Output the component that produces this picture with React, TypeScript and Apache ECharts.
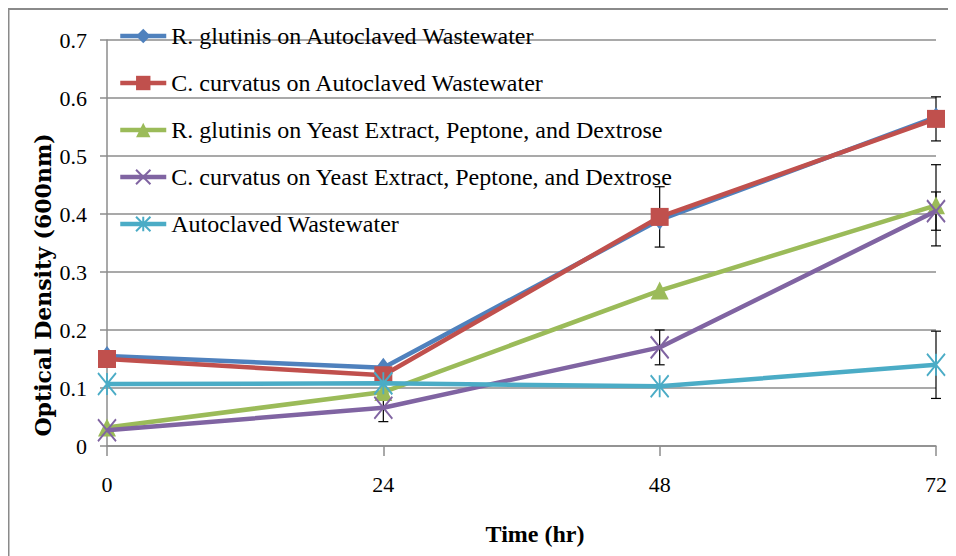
import React, { useEffect, useRef } from "react";
import * as echarts from "echarts";

const hours = [0, 24, 48, 72];
const seriesNames = [
  "R. glutinis on Autoclaved Wastewater",
  "C. curvatus on Autoclaved Wastewater",
  "R. glutinis on Yeast Extract, Peptone, and Dextrose",
  "C. curvatus on Yeast Extract, Peptone, and Dextrose",
  "Autoclaved Wastewater",
];
const rGlutinisAW = [0.155, 0.135, 0.39, 0.567];
const cCurvatusAW = [0.15, 0.122, 0.395, 0.564];
const rGlutinisYPD = [0.032, 0.093, 0.268, 0.415];
const cCurvatusYPD = [0.027, 0.066, 0.17, 0.405];
const autoclavedWW = [0.107, 0.108, 0.103, 0.14];

const errRGlutinisAW = [0, 0, 0, 0];
const errCCurvatusAW = [0, 0, 0.052, 0.038];
const errRGlutinisYPD = [0, 0, 0, 0.07];
const errCCurvatusYPD = [0, 0.024, 0.03, 0.033];
const errAutoclavedWW = [0, 0, 0, 0.058];

const yTicks = { min: 0, max: 0.7, interval: 0.1 };
const xTicks = { min: 0, max: 72, interval: 24 };

const colors = ["#4F81BD", "#C0504D", "#9BBB59", "#8064A2", "#4BACC6"];
const serif = "'Liberation Serif', serif";

export default function App() {
  const ref = useRef<HTMLDivElement>(null);
  useEffect(() => {
    if (!ref.current) return;
    const chart = echarts.init(ref.current, undefined, { renderer: "svg" });
    const values = [rGlutinisAW, cCurvatusAW, rGlutinisYPD, cCurvatusYPD, autoclavedWW];
    const errs = [errRGlutinisAW, errCCurvatusAW, errRGlutinisYPD, errCCurvatusYPD, errAutoclavedWW];
    const symbols: any[] = [
      { symbol: "diamond", symbolSize: [15, 20], itemStyle: { color: colors[0] } },
      { symbol: "rect", symbolSize: 18, itemStyle: { color: colors[1] } },
      { symbol: "triangle", symbolSize: 18, itemStyle: { color: colors[2] } },
      {
        symbol: "path://M0,0L10,12M10,0L0,12",
        symbolSize: [18, 22],
        itemStyle: { color: colors[3], borderColor: colors[3], borderWidth: 2 },
      },
      {
        symbol: "path://M0,0L10,12M10,0L0,12M5,0L5,12",
        symbolSize: [18, 22],
        itemStyle: { color: colors[4], borderColor: colors[4], borderWidth: 2 },
      },
    ];
    const errData: number[][] = [];
    values.forEach((vals, si) => {
      vals.forEach((v, i) => {
        if (errs[si][i] > 0) errData.push([hours[i], v, errs[si][i]]);
      });
    });
    const lineSeries = values.map((vals, si) => ({
      type: "line",
      name: seriesNames[si],
      data: vals.map((v, i) => [hours[i], v]),
      lineStyle: { color: colors[si], width: 4.5 },
      color: colors[si],
      ...symbols[si],
      showAllSymbol: true,
      z: 3 + si,
    }));
    const option: any = {
      animation: false,
      grid: { left: 99, right: 20, top: 32, bottom: 110, containLabel: false },
      legend: {
        data: seriesNames,
        orient: "vertical",
        left: 105,
        top: 11,
        itemWidth: 46,
        itemHeight: 18,
        itemGap: 23,
        selectedMode: false,
        lineStyle: { width: 4.5 },
        textStyle: { fontFamily: serif, fontSize: 24, color: "#000" },
      },
      xAxis: {
        type: "value",
        min: xTicks.min,
        max: xTicks.max,
        interval: xTicks.interval,
        axisLine: { show: true, lineStyle: { color: "#8c8c8c", width: 1.5 } },
        axisTick: { show: true, length: 10, lineStyle: { color: "#8c8c8c", width: 1.5 } },
        axisLabel: { fontFamily: serif, fontSize: 22, color: "#000", margin: 27 },
        splitLine: { show: false },
      },
      yAxis: {
        type: "value",
        min: yTicks.min,
        max: yTicks.max,
        interval: yTicks.interval,
        axisLine: { show: true, lineStyle: { color: "#8c8c8c", width: 1.5 } },
        axisTick: { show: true, length: 7, lineStyle: { color: "#8c8c8c", width: 1.5 } },
        axisLabel: { fontFamily: serif, fontSize: 22, color: "#000", margin: 20 },
        splitLine: { show: true, lineStyle: { color: "#8c8c8c", width: 1.5 } },
      },
      graphic: [
        {
          type: "rect",
          shape: { x: 0.5, y: 1, width: 2000, height: 2000 },
          style: { fill: "none", stroke: "#8a8a8a", lineWidth: 2 },
          z: -10,
          silent: true,
        },
        {
          type: "text",
          x: 35,
          y: 277,
          rotation: Math.PI / 2,
          style: {
            text: "Optical Density (600nm)",
            fontFamily: "'DejaVu Serif', serif",
            fontWeight: "bold",
            fontSize: 22,
            fill: "#000",
            textAlign: "center",
            textVerticalAlign: "middle",
          },
        },
        {
          type: "text",
          x: 527,
          y: 526,
          style: {
            text: "Time (hr)",
            fontFamily: serif,
            fontWeight: "bold",
            fontSize: 24,
            fill: "#000",
            textAlign: "center",
            textVerticalAlign: "middle",
          },
        },
      ],
      series: [
        {
          type: "custom",
          name: "errors",
          data: errData,
          encode: { x: 0, y: 1 },
          z: 2,
          renderItem: (params: any, api: any) => {
            const x = api.value(0);
            const y = api.value(1);
            const e = api.value(2);
            const top = api.coord([x, y + e]);
            const bot = api.coord([x, y - e]);
            const hw = 5;
            const st = { stroke: "#000", lineWidth: 1.2 };
            return {
              type: "group",
              children: [
                { type: "line", shape: { x1: top[0], y1: top[1], x2: bot[0], y2: bot[1] }, style: st },
                { type: "line", shape: { x1: top[0] - hw, y1: top[1], x2: top[0] + hw, y2: top[1] }, style: st },
                { type: "line", shape: { x1: bot[0] - hw, y1: bot[1], x2: bot[0] + hw, y2: bot[1] }, style: st },
              ],
            };
          },
        },
        ...lineSeries,
      ],
    };
    chart.setOption(option);
    return () => chart.dispose();
  }, []);
  return <div ref={ref} style={{ width: 948, height: 548, overflow: "hidden" }} />;
}
